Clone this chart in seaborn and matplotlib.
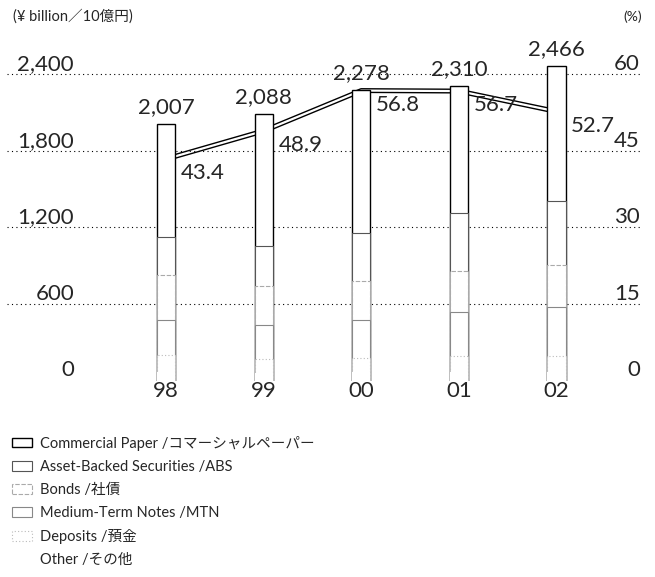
import matplotlib
matplotlib.use("Agg")
import matplotlib.pyplot as plt
from matplotlib.patches import Patch
import numpy as np
import pandas as pd
import seaborn as sns

# Data (¥ billion), read / estimated from the chart
years = ["98", "99", "00", "01", "02"]
totals = [2007, 2088, 2278, 2310, 2466]
share_pct = [43.4, 48.9, 56.8, 56.7, 52.7]

# segments, bottom to top (estimated)
other = [67, 58, 68, 70, 66]
deposits = [130, 110, 110, 120, 130]
mtn = [280, 270, 300, 350, 380]
bonds = [350, 300, 300, 320, 330]
abs_sec = [300, 320, 380, 450, 500]
cp = [880, 1030, 1120, 1000, 1060]

left_ticks = [0, 600, 1200, 1800, 2400]
right_ticks = [0, 15, 30, 45, 60]

labels = [
    "Commercial Paper /コマーシャルペーパー",
    "Asset-Backed Securities /ABS",
    "Bonds /社債",
    "Medium-Term Notes /MTN",
    "Deposits /預金",
    "Other /その他",
]

sns.set_style("white")
plt.rcParams["font.family"] = ["Lato", "Noto Sans CJK JP", "DejaVu Sans"]

# long table, stacked bottom -> top
stack = [("Other", other), ("Deposits", deposits), ("MTN", mtn),
         ("Bonds", bonds), ("ABS", abs_sec), ("CP", cp)]
rows = []
for i, y in enumerate(years):
    cum = 0
    for name, vals in stack:
        cum += vals[i]
        rows.append({"year": y, "cat": name, "cum": cum})
df = pd.DataFrame(rows)

# edge styles, in legend order (top segment first)
styles = {
    "CP": dict(edgecolor="black", linewidth=1.0, linestyle="-"),
    "ABS": dict(edgecolor="#555555", linewidth=0.8, linestyle="-"),
    "Bonds": dict(edgecolor="#aaaaaa", linewidth=0.8, linestyle=(0, (4, 1.5))),
    "MTN": dict(edgecolor="#888888", linewidth=0.8, linestyle="-"),
    "Deposits": dict(edgecolor="#bbbbbb", linewidth=0.8, linestyle=(0, (1, 2))),
    "Other": dict(edgecolor="white", linewidth=0.0, linestyle="-"),
}
order_top = ["CP", "ABS", "Bonds", "MTN", "Deposits", "Other"]

fig = plt.figure(figsize=(6.55, 5.77), dpi=100)
ax = fig.add_axes([7 / 655, 1 - 380.6 / 577, 634 / 655, 321.7 / 577])
ax2 = ax.twinx()

bar_w = 0.185
for c in order_top:
    sns.barplot(data=df[df["cat"] == c], x="year", y="cum", order=years,
                color="white", saturation=1, errorbar=None, width=bar_w,
                ax=ax, **styles[c])

# percentage line (double line look)
xpos = np.arange(len(years))
sns.lineplot(x=xpos, y=share_pct, ax=ax2, color="black", linewidth=3.6,
             sort=False)
sns.lineplot(x=xpos, y=share_pct, ax=ax2, color="white", linewidth=1.6,
             sort=False)

ax.set_zorder(ax2.get_zorder() + 1)
ax.patch.set_visible(False)

ax.set_xlim(-1.63, 4.866)
ax.set_ylim(0, 2520)
ax2.set_ylim(0, 2520 / 40)

ax.set_xlabel("")
ax.set_ylabel("")
ax2.set_ylabel("")
for s in ax.spines.values():
    s.set_visible(False)
for s in ax2.spines.values():
    s.set_visible(False)

ax.set_yticks(left_ticks[1:])
ax.yaxis.grid(True, color="black", linestyle=(0, (1, 3)), linewidth=0.8)
ax.tick_params(axis="y", length=0, labelleft=False)
ax2.set_yticks([])
ax.tick_params(axis="x", length=0, pad=0, labelsize=16)

# axis value labels sitting above the gridlines
for v in left_ticks:
    ax.annotate(f"{v:,}", xy=(0.1057, v), xycoords=("axes fraction", "data"),
                xytext=(0, 3), textcoords="offset points",
                ha="right", va="baseline", fontsize=16)
for v in right_ticks:
    ax2.annotate(f"{v}", xy=(0.9984, v), xycoords=("axes fraction", "data"),
                 xytext=(0, 3), textcoords="offset points",
                 ha="right", va="baseline", fontsize=16)

# totals on top of bars
for i, t in enumerate(totals):
    ax.annotate(f"{t:,}", xy=(i, t), xytext=(0, 5), textcoords="offset points",
                ha="center", va="bottom", fontsize=16)

# percentage labels
for i, p in enumerate(share_pct):
    ax2.annotate(f"{p:.1f}", xy=(i + bar_w / 2, p), xytext=(4, -3),
                 textcoords="offset points", ha="left", va="top", fontsize=16)

fig.text(13 / 655, 1 - 16 / 577, "(¥ billion／10億円)", ha="left",
         va="center", fontsize=10.5)
fig.text(642 / 655, 1 - 17 / 577, "(%)", ha="right", va="center",
         fontsize=10)

handles = [Patch(facecolor="white", **styles[c]) for c in order_top]
fig.legend(handles, labels, loc="upper left",
           bbox_to_anchor=(12 / 655, 1 - 436 / 577), frameon=False,
           borderpad=0, borderaxespad=0, handlelength=1.4, handleheight=0.6,
           handletextpad=0.55, labelspacing=0.62, fontsize=10.5)

fig.savefig("out.png", dpi=100)
